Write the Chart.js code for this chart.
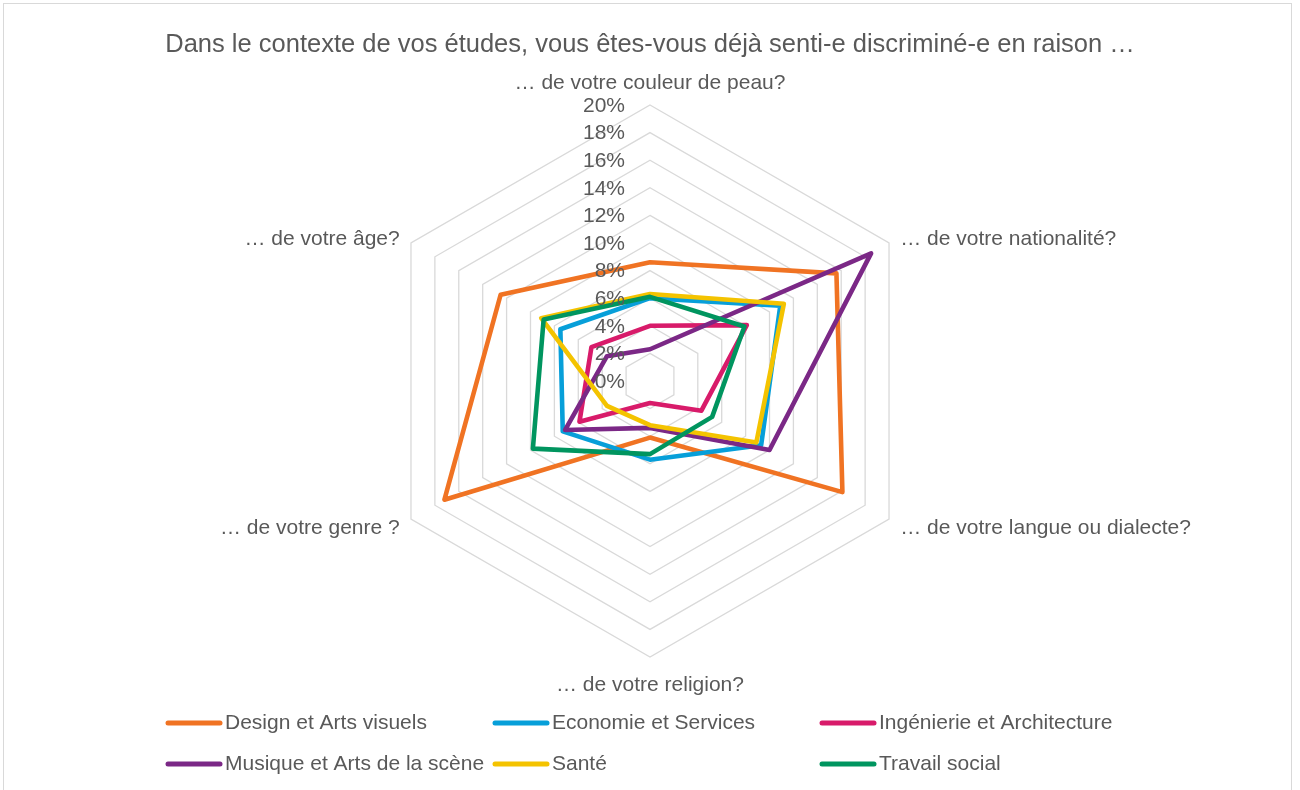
<!DOCTYPE html>
<html lang="fr">
<head>
<meta charset="utf-8">
<title>Discrimination pendant les études</title>
<script src="https://cdn.jsdelivr.net/npm/chart.js@4.4.1/dist/chart.umd.min.js"></script>
<style>
  html, body { margin: 0; padding: 0; background: #fff; overflow: hidden; }
  #wrap { position: relative; width: 1300px; height: 790px; }
  /* cadre gris clair autour du graphique */
  #frame { position: absolute; left: 3px; top: 3px; width: 1289px; height: 820px; border: 1px solid #d9d9d9; box-sizing: border-box; }
  canvas { position: absolute; left: 0; top: 0; }
</style>
</head>
<body>
<div id="wrap">
  <div id="frame"></div>
  <canvas id="radar" width="1300" height="790"></canvas>
</div>
<script>
// Question posée et axes du radar (sens horaire depuis le haut)
const title = 'Dans le contexte de vos études, vous êtes-vous déjà senti-e discriminé-e en raison …';
const axes = [
  '… de votre couleur de peau?',
  '… de votre nationalité?',
  '… de votre langue ou dialecte?',
  '… de votre religion?',
  '… de votre genre ?',
  '… de votre âge?'
];
const tickLabels = ['0%', '2%', '4%', '6%', '8%', '10%', '12%', '14%', '16%', '18%', '20%'];

// Part des réponses "oui" par domaine (en %)
const designArts    = [8.6, 15.6, 16.1, 4.1, 17.2, 12.5];
const economie      = [6.0, 10.9, 9.3, 5.7, 7.3, 7.5];
const ingenierie    = [4.0, 8.1, 4.3, 1.6, 5.9, 4.9];
const musique       = [2.3, 18.5, 10.0, 3.4, 7.1, 3.6];
const sante         = [6.3, 11.2, 8.9, 3.2, 3.6, 9.1];
const travailSocial = [6.1, 7.9, 5.2, 5.3, 9.8, 8.9];

const seriesNames = [
  'Design et Arts visuels',
  'Economie et Services',
  'Ingénierie et Architecture',
  'Musique et Arts de la scène',
  'Santé',
  'Travail social'
];
const seriesData = [designArts, economie, ingenierie, musique, sante, travailSocial];
const seriesColors = ['#f07323', '#079fd9', '#d81b6a', '#7b2886', '#f4c300', '#00955f'];

const TEXT = '#595959';
const FAMILY = '"Liberation Sans", Arial, sans-serif';
const FONT_SIZE = 21;

// textes du radar (graduations, libellés des axes) et légende en grille 3 colonnes
const radarText = {
  id: 'radarText',
  afterDatasetsDraw(chart) {
    const scale = chart.scales.r;
    const ctx = chart.ctx;
    ctx.save();
    ctx.fillStyle = TEXT;
    ctx.font = FONT_SIZE + 'px ' + FAMILY;

    // graduations alignées à droite, à gauche de l'axe vertical
    ctx.textAlign = 'right';
    ctx.textBaseline = 'middle';
    scale.ticks.forEach((t, i) => {
      const d = scale.getDistanceFromCenterForValue(t.value);
      ctx.fillText(tickLabels[i], scale.xCenter - 25, scale.yCenter - d + 1);
    });

    // libellés des axes
    axes.forEach((txt, i) => {
      const vertical = (i === 0 || i === 3);
      const dist = scale.drawingArea + (i === 0 ? 22 : i === 3 ? 28 : 13);
      const p = scale.getPointPosition(i, dist);
      ctx.textAlign = vertical ? 'center' : (i < 3 ? 'left' : 'right');
      ctx.fillText(txt, p.x, p.y + (vertical ? 0 : 3));
    });

    // légende
    ctx.textAlign = 'left';
    chart.data.datasets.forEach((ds, i) => {
      const x0 = 168 + (i % 3) * 327;
      const y = 723 + Math.floor(i / 3) * 41;
      ctx.strokeStyle = ds.borderColor;
      ctx.lineWidth = 5;
      ctx.lineCap = 'round';
      ctx.beginPath();
      ctx.moveTo(x0, y);
      ctx.lineTo(x0 + 52, y);
      ctx.stroke();
      ctx.fillText(ds.label, x0 + 57, y);
    });
    ctx.restore();
  }
};

const n = seriesNames.length;
const chart = new Chart(document.getElementById('radar'), {
  type: 'radar',
  data: {
    labels: axes,
    datasets: seriesNames.map((name, i) => ({
      label: name,
      data: seriesData[i],
      borderColor: seriesColors[i],
      backgroundColor: 'transparent',
      borderWidth: 4.6,
      borderJoinStyle: 'round',
      pointRadius: 0,
      pointHoverRadius: 0,
      fill: false,
      order: n - 1 - i   // la dernière série passe au premier plan
    }))
  },
  options: {
    responsive: false,
    animation: false,
    devicePixelRatio: 1,
    layout: { padding: { top: 0, bottom: 133, left: 0, right: 0 } },
    scales: {
      r: {
        min: 0,
        max: 20,
        ticks: { stepSize: 2, display: false },
        pointLabels: { display: false },
        angleLines: { display: false },
        grid: { color: '#d9d9d9', lineWidth: 1.3 }
      }
    },
    plugins: {
      legend: { display: false },
      tooltip: { enabled: false },
      title: {
        display: true,
        text: title,
        color: TEXT,
        font: { family: FAMILY, size: 25.5, weight: 'normal' },
        padding: { top: 29.5, bottom: 44.9 }
      }
    }
  },
  plugins: [radarText]
});
</script>
</body>
</html>
